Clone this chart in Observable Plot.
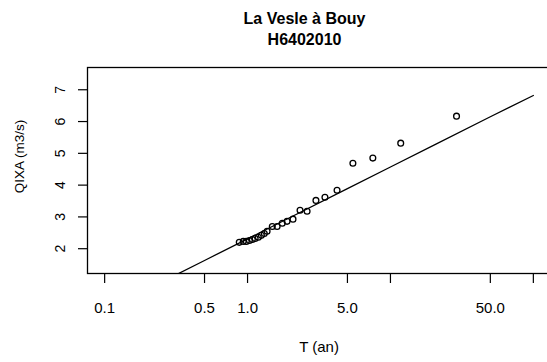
<!DOCTYPE html>
<html>
<head>
<meta charset="utf-8">
<script src="https://cdn.jsdelivr.net/npm/d3@7"></script>
<script src="https://cdn.jsdelivr.net/npm/@observablehq/plot@0.6"></script>
<style>
  html, body { margin: 0; padding: 0; background: #fff; }
</style>
</head>
<body>
<div id="chart"></div>
<script>
// Observed points: return period T (years) and QIXA (m3/s)
const obsT = [0.875, 0.933, 0.98, 1.03, 1.08, 1.13, 1.19, 1.25, 1.31, 1.37, 1.49, 1.61, 1.75, 1.89, 2.08, 2.33, 2.61, 3.01, 3.48, 4.23, 5.46, 7.53, 11.8, 29.0];
const obsQ = [2.20, 2.23, 2.23, 2.26, 2.29, 2.32, 2.36, 2.42, 2.48, 2.55, 2.70, 2.70, 2.80, 2.86, 2.93, 3.21, 3.18, 3.52, 3.62, 3.84, 4.69, 4.85, 5.32, 6.17];

// Fitted curve
const fitT = [0.1, 0.2, 0.5, 1, 2, 5, 10, 20, 50, 100];
const fitQ = [0.05, 0.73, 1.63, 2.31, 2.99, 3.89, 4.57, 5.25, 6.15, 6.82];

// Axis ticks
const xTicks = [0.1, 0.5, 1, 5, 10, 50, 100];
const xTickLabels = ["0.1", "0.5", "1.0", "5.0", "", "50.0", ""];
const yTicks = [2, 3, 4, 5, 6, 7];
const yTickLabels = ["2", "3", "4", "5", "6", "7"];

const titleLines = ["La Vesle à Bouy", "H6402010"];
const xLabel = "T (an)";
const yLabel = "QIXA (m3/s)";

const points = obsT.map((t, i) => ({T: t, Q: obsQ[i]}));
const curve = fitT.map((t, i) => ({T: t, Q: fitQ[i]}));
const xLabelData = xTicks.map((t, i) => ({T: t, label: xTickLabels[i]}));
const yLabelData = yTicks.map((v, i) => ({Q: v, label: yTickLabels[i]}));

const font = "'Liberation Sans', Arial, Helvetica, sans-serif";

const chart = Plot.plot({
  width: 547,
  height: 362,
  marginLeft: 87,
  marginRight: -3,
  marginTop: 67,
  marginBottom: 89,
  style: {fontFamily: font, fontSize: "13px", color: "#000", background: "#fff", overflow: "hidden"},
  x: {type: "log", domain: [Math.pow(10, -1.12), Math.pow(10, 2.12)]},
  y: {domain: [1.22, 7.70]},
  marks: [
    Plot.line(curve, {x: "T", y: "Q", stroke: "#000", strokeWidth: 1.3, clip: true}),
    Plot.dot(points, {x: "T", y: "Q", r: 2.9, stroke: "#000", strokeWidth: 1.3, fill: "none", clip: true}),
    Plot.frame({stroke: "#000", strokeWidth: 1.3}),
    Plot.axisX({ticks: xTicks, tickSize: 10, tickFormat: () => "", label: null, stroke: "#000", strokeWidth: 1.2}),
    Plot.axisY({ticks: yTicks, tickSize: 9, tickFormat: () => "", label: null, stroke: "#000", strokeWidth: 1.2}),
    Plot.text(xLabelData, {x: "T", text: "label", frameAnchor: "bottom", textAnchor: "middle", lineAnchor: "middle", dy: 35, fontSize: 15, fill: "#000"}),
    Plot.text(yLabelData, {y: "Q", text: "label", frameAnchor: "left", textAnchor: "middle", lineAnchor: "middle", rotate: -90, dx: -27, fontSize: 14, fill: "#000"}),
    Plot.text([xLabel], {text: d => d, frameAnchor: "bottom", textAnchor: "middle", lineAnchor: "middle", dy: 74, fontSize: 15, fill: "#000"}),
    Plot.text([yLabel], {text: d => d, frameAnchor: "left", textAnchor: "middle", lineAnchor: "middle", rotate: -90, dx: -68, dy: -14, fontSize: 13.5, fill: "#000"}),
    Plot.text([titleLines[0]], {text: d => d, frameAnchor: "top", textAnchor: "middle", lineAnchor: "middle", dy: -49, dx: -14.5, fontSize: 16, fontWeight: "bold", fill: "#000"}),
    Plot.text([titleLines[1]], {text: d => d, frameAnchor: "top", textAnchor: "middle", lineAnchor: "middle", dy: -28, dx: -14.5, fontSize: 16, fontWeight: "bold", fill: "#000"})
  ]
});
document.getElementById("chart").appendChild(chart);
</script>
</body>
</html>
